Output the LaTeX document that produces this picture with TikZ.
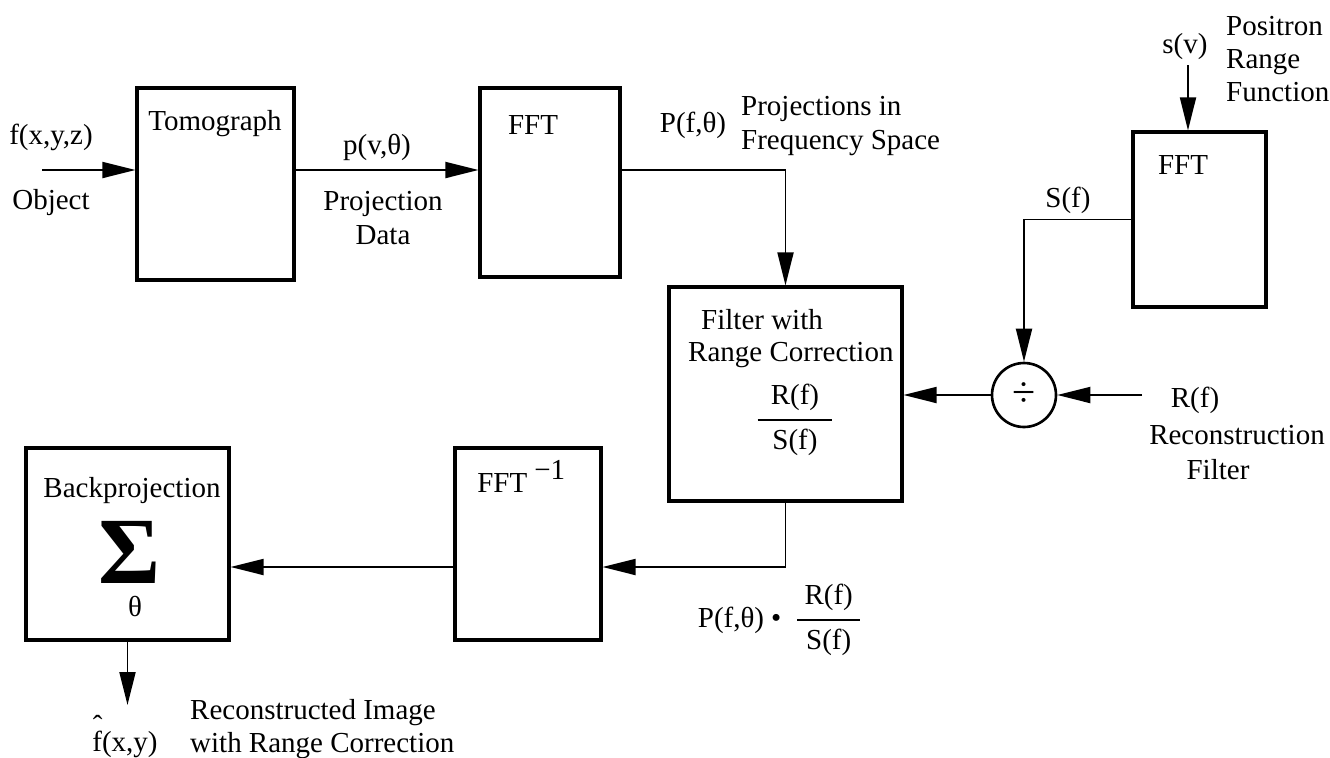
\documentclass[tikz,border=0pt]{standalone}
\usepackage{amsmath}
\usepackage{fontspec}
\setmainfont{Liberation Serif}
\usepackage{tikz}
\usetikzlibrary{arrows.meta,positioning,fit}

\tikzset{
  blk/.style={draw,line width=1.8pt,inner sep=0pt},
  flow/.style={line width=1.1pt,-{Triangle[length=0.66cm,width=0.32cm]}},
}
\newcommand{\rsfrac}[1]{$\genfrac{}{}{1.5pt}{0}{\hbox to #1{\hfil R(f)\hfil}}{\hbox{S(f)}}$}

\begin{document}
\begin{tikzpicture}[x=0.02cm,y=-0.02cm,font=\fontsize{16.5}{19}\selectfont]
  \useasboundingbox (0,0) rectangle (1330,758);
  % blocks
  \node[blk,fit={(137,88) (294,280)}] (tomo) {};
  \node[blk,fit={(480,88) (620,277)}] (fft) {};
  \node[blk,fit={(1133,132) (1266,307)}] (fftS) {};
  \node[blk,fit={(669,287) (902,501)}] (filt) {};
  \node[blk,fit={(455,448) (601,640)}] (ifft) {};
  \node[blk,fit={(26,448) (229,640)}] (back) {};
  \node[draw,circle,line width=1.5pt,minimum size=1.28cm,inner sep=0pt,font=\fontsize{24}{24}\selectfont] (div) at (1024,395) {÷};
  % block texts
  \node (tomoT) at (215,124) {Tomograph};
  \node (fftT) at (533,125) {FFT};
  \node (fftST) at (1183,165) {FFT};
  \node[anchor=west] (filtT1) at (695,320) {Filter with};
  \node[anchor=west] (filtT2) at (682,355) {Range Correction};
  \node (filtF) at (795,420) {\rsfrac{1.5cm}};
  \node[anchor=base west,inner sep=0pt] (ifftT) at (477,492) {FFT\hspace{4pt}\raisebox{7pt}{−1}};
  \node (backT) at (132,491) {Backprojection};
  \node[inner sep=0pt,font=\fontsize{54}{54}\selectfont\bfseries] (sig) at (130,552) {Σ};
  \node[inner sep=0pt] (sigT) at (135,606) {θ};
  % labels
  \node (lobjF) at (51,137) {f(x,y,z)};
  \node (lobj) at (51,203) {Object};
  \node (lp) at (377,147) {p(v,θ)};
  \node[align=center] (lpd) at (383,218) {Projection\\Data};
  \node (lP) at (693,125) {P(f,θ)};
  \node[anchor=west,align=left] (lPF) at (735,126) {Projections in\\Frequency Space};
  \node (ls) at (1185,47) {s(v)};
  \node[anchor=west,align=left] (lpos) at (1220,59) {Positron\\Range\\Function};
  \node (lS) at (1068,200) {S(f)};
  \node (lR) at (1195,400) {R(f)};
  \node (lRF1) at (1237,435) {Reconstruction};
  \node (lRF2) at (1218,470) {Filter};
  \node (lprod) at (780,620) {P(f,θ)\hspace{4pt}\textbullet\hspace{8pt}\rsfrac{1.25cm}};
  \node[inner sep=1pt] (lfhat) at (125,744) {\rlap{\raisebox{0.53em}[0pt][0pt]{\hspace{0.02em}ˆ}}f(x,y)};
  \node[anchor=west,align=left] (lrec) at (184,729) {Reconstructed Image\\with Range Correction};
  % connectors
  \coordinate (src) at (42,170);
  \coordinate (sv) at (1188,65);
  \coordinate (rf) at (1142,395);
  \coordinate (lvl) at (400,567);
  \coordinate (out) at (127.5,705);
  \draw[flow] (src) -- (src -| tomo.west);
  \draw[flow] (tomo.east |- src) -- (fft.west |- src);
  \draw[flow] (fft.east |- src) -| (filt.north);
  \draw[flow] (sv) -- (sv |- fftS.north);
  \draw[flow] (fftS.west) -| (div.north);
  \draw[flow] (rf) -- (div.east);
  \draw[flow] (div.west) -- (div.west -| filt.east);
  \draw[flow] (filt.south) |- (ifft.east |- lvl);
  \draw[flow] (ifft.west |- lvl) -- (back.east |- lvl);
  \draw[flow] (back.south) -- (out);
\end{tikzpicture}
\end{document}
